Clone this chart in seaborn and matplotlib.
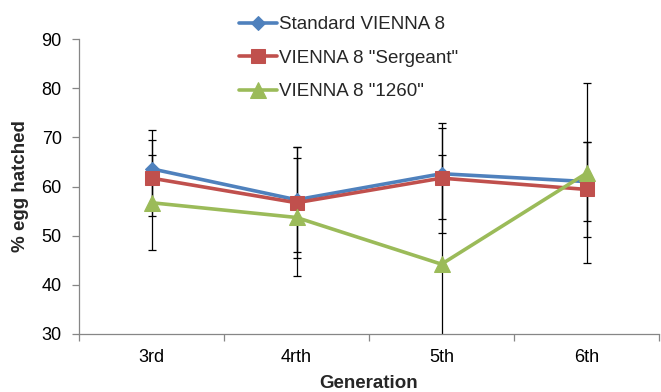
import matplotlib
matplotlib.use("Agg")
import matplotlib.pyplot as plt
import seaborn as sns
import pandas as pd

generations = ["3rd", "4rth", "5th", "6th"]
series_names = ["Standard VIENNA 8", 'VIENNA 8 "Sergeant"', 'VIENNA 8 "1260"']
standard = [63.6, 57.3, 62.6, 61.0]
standard_err = [7.9, 10.7, 9.2, 8.0]
sergeant = [61.7, 56.7, 61.7, 59.4]
sergeant_err = [7.8, 11.3, 11.2, 9.6]
v1260 = [56.7, 53.7, 44.2, 62.7]
v1260_err = [9.7, 12.0, 22.2, 18.3]
yticks = [30, 40, 50, 60, 70, 80, 90]

values = [standard, sergeant, v1260]
errors = [standard_err, sergeant_err, v1260_err]
colors = ["#4F81BD", "#C0504D", "#9BBB59"]
markers = ["D", "s", "^"]
msizes = [7, 10, 11]

sns.set_theme(style="white")
plt.rcParams["font.family"] = ["Liberation Sans", "DejaVu Sans"]

fig = plt.figure(figsize=(6.61, 3.92), dpi=100)
ax = fig.add_axes([79/661, 58/392, 580/661, 295/392])

for name, vals, errs, c in zip(series_names, values, errors, colors):
    ax.errorbar(generations, vals, yerr=errs, fmt="none", ecolor="black",
                elinewidth=0.9, capsize=3, capthick=0.9, zorder=1)

for name, vals, c, m, ms in zip(series_names, values, colors, markers, msizes):
    df = pd.DataFrame({"Generation": generations, "pct": vals})
    sns.lineplot(data=df, x="Generation", y="pct", color=c, marker=m,
                 markersize=ms, markeredgecolor=c, linewidth=2.6,
                 label=name, sort=False, ax=ax, zorder=3)

ax.set_xlim(-0.5, 3.5)
ax.set_ylim(30, 90)
ax.set_yticks(yticks)
ax.set_xticks(range(4))
ax.set_xticklabels(generations)
ax.set_xticks([-0.5, 0.5, 1.5, 2.5, 3.5], minor=True)

for s in ["top", "right"]:
    ax.spines[s].set_visible(False)
for s in ["left", "bottom"]:
    ax.spines[s].set_color("#868686")
    ax.spines[s].set_linewidth(0.9)

ax.tick_params(axis="y", which="major", direction="out", length=5, width=0.9,
               color="#868686", labelsize=13, pad=7.5, left=True, labelcolor="black")
ax.tick_params(axis="x", which="major", length=0, labelsize=13, pad=11, labelcolor="black")
ax.tick_params(axis="x", which="minor", direction="out", length=5, width=0.9,
               color="#868686", bottom=True)

ax.set_xlabel("Generation", fontsize=13.5, fontweight="bold")
ax.set_ylabel("% egg hatched", fontsize=13.5, fontweight="bold")
ax.yaxis.set_label_coords(-0.086, 0.5)
ax.xaxis.set_label_coords(0.5, -0.139)

handles, labels = ax.get_legend_handles_labels()
ax.get_legend().remove()
fig.legend(handles, labels, loc="upper left", bbox_to_anchor=(239/661, 1 - 16/392),
           frameon=False, fontsize=13.5, handlelength=2.0, handletextpad=0.15,
           labelspacing=0.88, borderpad=0, borderaxespad=0)

fig.savefig("out.png", dpi=100)
